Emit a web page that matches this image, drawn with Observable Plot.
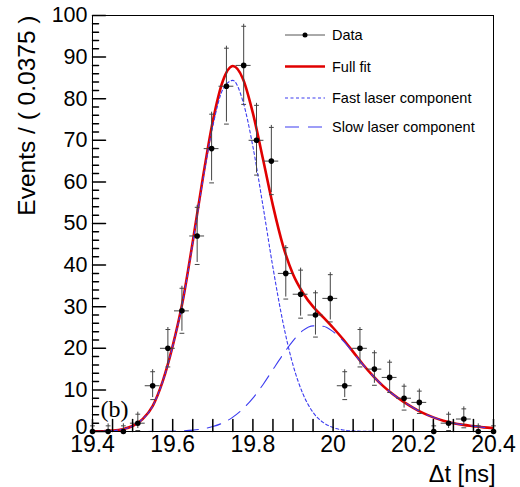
<!DOCTYPE html>
<html><head><meta charset="utf-8">
<script src="https://cdn.jsdelivr.net/npm/d3@7"></script>
<script src="https://cdn.jsdelivr.net/npm/@observablehq/plot@0.6"></script>
<style>body{margin:0;background:#fff}#chart svg{display:block}</style>
</head><body><div id="chart"></div>
<script>
// ---- data ----
const binX = [19.400,19.439,19.477,19.513,19.550,19.588,19.623,19.661,19.697,19.734,19.777,19.809,19.846,19.882,19.919,19.956,19.993,20.029,20.067,20.103,20.141,20.177,20.215,20.251,20.288,20.326,20.362,20.400];
const counts = [0,0,0,2,11,20,29,47,68,83,88,70,65,38,33,28,32,11,20,15,13,8,7,0,2,3,0,0];
const errLo = [0,0,0,1.29,2.85,4.0,4.91,6.37,7.76,8.62,8.89,7.88,7.58,5.68,5.27,4.82,5.18,2.85,4.0,3.41,3.14,2.37,2.19,0,1.29,1.63,0,0];
const errHi = [1.84,1.84,1.84,2.64,3.85,5.0,5.91,7.37,8.76,9.62,9.89,8.88,8.58,6.68,6.27,5.82,6.18,3.85,5.0,4.41,4.14,3.37,3.19,1.84,2.64,2.92,1.84,1.84];
const binWidth = 0.037;

const curveX = [19.400,19.425,19.450,19.475,19.500,19.525,19.550,19.575,19.600,19.625,19.650,19.675,19.700,19.725,19.750,19.775,19.800,19.825,19.850,19.875,19.900,19.925,19.950,19.975,20.000,20.025,20.050,20.075,20.100,20.125,20.150,20.175,20.200,20.225,20.250,20.275,20.300,20.325,20.350,20.375,20.400];
const fullFit = [0.02,0.07,0.21,0.55,1.33,2.98,6.12,12.04,20.57,31.35,45.62,60.83,74.58,84.27,87.85,84.82,76.54,65.55,54.3,44.7,37.8,33.3,30.0,27.5,24.94,22.17,19.14,16.05,13.32,10.9,8.9,7.2,5.7,4.4,3.4,2.6,2.0,1.6,1.3,1.0,0.8];
const fastComp = [0.02,0.07,0.21,0.55,1.33,2.97,6.1,12.0,20.5,31.2,45.3,60.2,73.4,82.2,84.4,79.4,68.5,54.3,39.4,26.2,16.0,9.0,4.6,2.2,0.94,0.37,0.14,0.05,0.02,0,0,0,0,0,0,0,0,0,0,0,0];
const slowComp = [0,0,0,0,0,0.01,0.02,0.04,0.07,0.15,0.32,0.63,1.18,2.07,3.45,5.42,8.04,11.25,14.9,18.5,21.8,24.3,25.4,25.3,24.0,21.8,19.0,16.0,13.3,10.9,8.9,7.2,5.7,4.4,3.4,2.6,2.0,1.6,1.3,1.0,0.8];

const xDomain = [19.4, 20.4];
const yDomain = [0, 100];
const xTickLabels = [19.4,19.6,19.8,20,20.2,20.4];
const xMinorTicks = [19.45,19.5,19.55,19.65,19.7,19.75,19.85,19.9,19.95,20.05,20.1,20.15,20.25,20.3,20.35];
const yTickLabels = [0,10,20,30,40,50,60,70,80,90,100];
const yMinorTicks = [2,4,6,8,12,14,16,18,22,24,26,28,32,34,36,38,42,44,46,48,52,54,56,58,62,64,66,68,72,74,76,78,82,84,86,88,92,94,96,98];
const legendLabels = ["Data","Full fit","Fast laser component","Slow laser component"];
const yTitle = "Events / ( 0.0375 )";
const xTitle = "\u0394t [ns]";
const panelLabel = "(b)";

// ---- build tables ----
const points = binX.map((x,i)=>({x, y:counts[i], lo:counts[i]-errLo[i], hi:counts[i]+errHi[i]}));
const curves = curveX.map((x,i)=>({x, full:fullFit[i], fast:fastComp[i], slow:slowComp[i]}));

const RED = "#e00000", BLUE = "#3c3cf0", ERR = "#444";
const tickShape = {draw(ctx, l){ ctx.moveTo(0,0); ctx.lineTo(0,-l); }};
const capShape = {draw(ctx, l){ ctx.moveTo(-l/2,0); ctx.lineTo(l/2,0); }};
const FONT = "'Liberation Sans', Arial, Helvetica, sans-serif";

const svg = Plot.plot({
  width: 520, height: 487,
  marginLeft: 92, marginRight: 27, marginTop: 15, marginBottom: 56,
  style: {fontFamily: FONT, fontSize: "22px", background: "#fff", color: "#000", overflow: "visible"},
  x: {domain: xDomain},
  y: {domain: yDomain},
  marks: [
    Plot.frame({stroke: "#000", strokeWidth: 1}),
    // curves
    Plot.line(curves, {x: "x", y: "full", stroke: RED, strokeWidth: 2.6, curve: "monotone-x", clip: true}),
    Plot.line(curves, {x: "x", y: "fast", stroke: BLUE, strokeWidth: 1.1, strokeDasharray: "3,2.5", curve: "monotone-x", clip: true}),
    Plot.line(curves, {x: "x", y: "slow", stroke: BLUE, strokeWidth: 1.1, strokeDasharray: "14,9", curve: "monotone-x", clip: true}),
    // error bars
    Plot.ruleX(points, {x: "x", y1: "lo", y2: "hi", stroke: ERR, strokeWidth: 1}),
    Plot.ruleY(points, {y: "y", x1: d => d.x - binWidth/2, x2: d => d.x + binWidth/2, stroke: ERR, strokeWidth: 1, clip: true}),
    Plot.vector(points, {x: "x", y: "hi", length: 4, rotate: 0, anchor: "middle", shape: capShape, stroke: ERR, strokeWidth: 1}),
    Plot.vector(points.filter(d => d.lo > 0), {x: "x", y: "lo", length: 4, rotate: 0, anchor: "middle", shape: capShape, stroke: ERR, strokeWidth: 1}),
    Plot.dot(points, {x: "x", y: "y", r: 2.8, fill: "#000"}),
    // inward ticks
    Plot.vector(xTickLabels, {x: d => d, frameAnchor: "bottom", length: 12, rotate: 0, anchor: "start", shape: tickShape, stroke: "#000"}),
    Plot.vector(xMinorTicks, {x: d => d, frameAnchor: "bottom", length: 12, rotate: 0, anchor: "start", shape: tickShape, stroke: "#000"}),
    Plot.vector(yTickLabels, {y: d => d, frameAnchor: "left", length: 13, rotate: 90, anchor: "start", shape: tickShape, stroke: "#000"}),
    Plot.vector(yMinorTicks, {y: d => d, frameAnchor: "left", length: 6, rotate: 90, anchor: "start", shape: tickShape, stroke: "#000"}),
    Plot.axisX({ticks: xTickLabels, tickSize: 0, tickPadding: 4, tickFormat: d => String(d), label: null, fontSize: 23}),
    Plot.axisY({ticks: yTickLabels.filter(d => d !== 0), tickSize: 0, tickPadding: 5, tickFormat: d => String(d), label: null, fontSize: 21.5}),
    Plot.axisY({ticks: yTickLabels.filter(d => d === 0), tickSize: 0, tickPadding: 5, tickFormat: d => String(d), label: null, fontSize: 21.5, dy: -4}),
    // titles
    Plot.text([yTitle], {text: d => d, frameAnchor: "top-left", rotate: -90, textAnchor: "end", lineAnchor: "middle", dx: -65, fontSize: 24.5}),
    Plot.text([xTitle], {text: d => d, frameAnchor: "bottom-right", textAnchor: "end", lineAnchor: "middle", dx: 2, dy: 43, fontSize: 23.5}),
    Plot.text([panelLabel], {text: d => d, frameAnchor: "bottom-left", textAnchor: "start", lineAnchor: "bottom", dx: 8, dy: -15, fontSize: 24, fontFamily: "'Liberation Serif', 'Times New Roman', serif"})
  ]
});

// legend
const lg = d3.select(svg).append("g").attr("font-family", FONT).attr("font-size", 14.5).attr("text-anchor", "start");
const rows = [35, 66.5, 98, 127];
const styles = [
  {stroke: "#555", w: 1, dash: "none"},
  {stroke: RED, w: 2.6, dash: "none"},
  {stroke: BLUE, w: 1.1, dash: "3,2.5"},
  {stroke: BLUE, w: 1.1, dash: "14,9"}
];
legendLabels.forEach((lab, i) => {
  const y = rows[i], s = styles[i];
  lg.append("line").attr("x1", 285).attr("x2", 325).attr("y1", y).attr("y2", y)
    .attr("stroke", s.stroke).attr("stroke-width", s.w).attr("stroke-dasharray", s.dash);
  if (i === 0) lg.append("circle").attr("cx", 305).attr("cy", y).attr("r", 2.5).attr("fill", "#000");
  lg.append("text").attr("x", 332).attr("y", y).attr("dy", "0.35em").attr("fill", "#000").text(lab);
});

document.getElementById("chart").appendChild(svg);
</script>
</body></html>
